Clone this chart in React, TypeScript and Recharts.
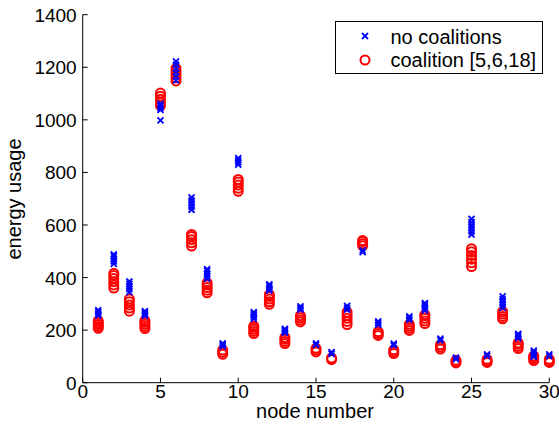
import React from "react";
import { ScatterChart, Scatter, XAxis, YAxis } from "recharts";

const nodeNumbers: number[] = [
  1, 2, 3, 4, 5, 6, 7, 8, 9, 10, 11, 12, 13, 14, 15,
  16, 17, 18, 19, 20, 21, 22, 23, 24, 25, 26, 27, 28, 29, 30,
];

// energy usage per node, no coalitions (several runs per node)
const noCoalitions: number[][] = [
  [255, 262, 269, 276],
  [452, 462, 472, 482, 488],
  [345, 356, 366, 376, 385],
  [254, 260, 266, 272],
  [998, 1038, 1046, 1054, 1062],
  [1150, 1165, 1180, 1195, 1210, 1222],
  [658, 670, 682, 694, 705],
  [395, 405, 415, 425, 432],
  [138, 144, 150],
  [830, 838, 846, 854],
  [243, 250, 257, 264, 268],
  [350, 357, 364, 371, 374],
  [190, 196, 202, 205],
  [278, 284, 290],
  [144, 150],
  [110, 116],
  [278, 285, 292],
  [497, 503],
  [220, 227, 233],
  [142, 149],
  [239, 246, 252],
  [274, 282, 290, 298, 303],
  [161, 168],
  [90, 95],
  [563, 575, 587, 599, 611, 623],
  [102, 108],
  [285, 296, 307, 318, 328],
  [169, 176, 183, 186],
  [98, 106, 114, 122],
  [101, 108],
];

// energy usage per node, coalition [5,6,18]
const coalition5618: number[][] = [
  [207, 214, 221, 228, 235],
  [360, 372, 384, 396, 408, 416],
  [272, 284, 296, 308, 318],
  [206, 214, 222, 230, 236],
  [1054, 1066, 1078, 1090, 1102],
  [1148, 1160, 1172, 1184, 1196],
  [520, 532, 544, 556, 564],
  [342, 352, 362, 372, 380],
  [108, 116, 124],
  [728, 740, 752, 764, 773],
  [187, 195, 203, 211, 215],
  [298, 308, 318, 328, 335],
  [149, 157, 165, 172],
  [231, 239, 247, 255],
  [117, 124, 131],
  [88, 94],
  [221, 233, 245, 257, 268],
  [521, 529, 537, 541],
  [180, 187, 194],
  [111, 118, 125],
  [199, 207, 215, 222],
  [225, 235, 245, 255, 259],
  [128, 136, 144],
  [75, 80, 85],
  [442, 456, 470, 484, 498, 510],
  [77, 83, 89],
  [243, 252, 261, 270],
  [130, 138, 146, 151],
  [84, 91, 98, 102],
  [77, 83, 89],
];

const xTicks: number[] = [0, 5, 10, 15, 20, 25, 30];
const yTicks: number[] = [0, 200, 400, 600, 800, 1000, 1200, 1400];

const seriesNames = ["no coalitions", "coalition [5,6,18]"];

const toPoints = (vals: number[][]) =>
  nodeNumbers.flatMap((n, i) => vals[i].map((v) => ({ x: n, y: v })));

const blueData = toPoints(noCoalitions);
const redData = toPoints(coalition5618);

const FONT = "'Liberation Sans', Arial, sans-serif";
const BLUE = "#0000ff";
const RED = "#ff0000";

const XMark = (props: any) => {
  const { cx, cy } = props;
  if (cx == null || cy == null) return null;
  const s = 3;
  return (
    <path
      d={`M${cx - s},${cy - s}L${cx + s},${cy + s}M${cx - s},${cy + s}L${cx + s},${cy - s}`}
      stroke={BLUE}
      strokeWidth={1.8}
      fill="none"
    />
  );
};

const OMark = (props: any) => {
  const { cx, cy } = props;
  if (cx == null || cy == null) return null;
  return <circle cx={cx} cy={cy} r={4.5} stroke={RED} strokeWidth={2} fill="none" />;
};

const XTick = (props: any) => {
  const { x, y, payload } = props;
  return (
    <g>
      <line x1={x} y1={y} x2={x} y2={y - 5} stroke="#000" strokeWidth={1} />
      <text x={x} y={y + 15} textAnchor="middle" fontSize={19} fontFamily={FONT} fill="#000">
        {payload.value}
      </text>
    </g>
  );
};

const YTick = (props: any) => {
  const { x, y, payload } = props;
  return (
    <g>
      <line x1={x} y1={y} x2={x + 5} y2={y} stroke="#000" strokeWidth={1} />
      <text x={x - 6} y={y + 7} textAnchor="end" fontSize={19} fontFamily={FONT} fill="#000">
        {payload.value}
      </text>
    </g>
  );
};

export default function App() {
  return (
    <div style={{ position: "absolute", left: 0, top: 0, width: 559, height: 432, background: "#fff" }}>
      <ScatterChart
        width={559}
        height={432}
        margin={{ top: 14.7, right: 9.7, bottom: 0, left: 0 }}
      >
        <XAxis
          type="number"
          dataKey="x"
          domain={[0, 30]}
          ticks={xTicks}
          interval={0}
          height={49.3}
          tickSize={0}
          tickMargin={0}
          tickLine={false}
          axisLine={{ stroke: "#000", strokeWidth: 1 }}
          tick={<XTick />}
        />
        <YAxis
          type="number"
          dataKey="y"
          domain={[0, 1400]}
          ticks={yTicks}
          interval={0}
          width={82.7}
          tickSize={0}
          tickMargin={0}
          tickLine={false}
          axisLine={{ stroke: "#000", strokeWidth: 1 }}
          tick={<YTick />}
        />
        <Scatter name={seriesNames[1]} data={redData} shape={<OMark />} isAnimationActive={false} />
        <Scatter name={seriesNames[0]} data={blueData} shape={<XMark />} isAnimationActive={false} />
      </ScatterChart>
      <svg
        width={559}
        height={432}
        style={{ position: "absolute", left: 0, top: 0, pointerEvents: "none" }}
      >
        <text
          x={21}
          y={199}
          transform="rotate(-90, 21, 199)"
          textAnchor="middle"
          fontSize={20}
          fontFamily={FONT}
          fill="#000"
        >
          energy usage
        </text>
        <text x={315} y={418} textAnchor="middle" fontSize={20} fontFamily={FONT} fill="#000">
          node number
        </text>
        <rect x={335.5} y={21.5} width={207} height={52} fill="#fff" stroke="#000" strokeWidth={1} />
        <XMark cx={365} cy={36} />
        <text x={390.5} y={43.5} fontSize={20} fontFamily={FONT} fill="#000">
          {seriesNames[0]}
        </text>
        <OMark cx={365} cy={60} />
        <text x={390.5} y={67} fontSize={20} fontFamily={FONT} fill="#000">
          {seriesNames[1]}
        </text>
      </svg>
    </div>
  );
}
